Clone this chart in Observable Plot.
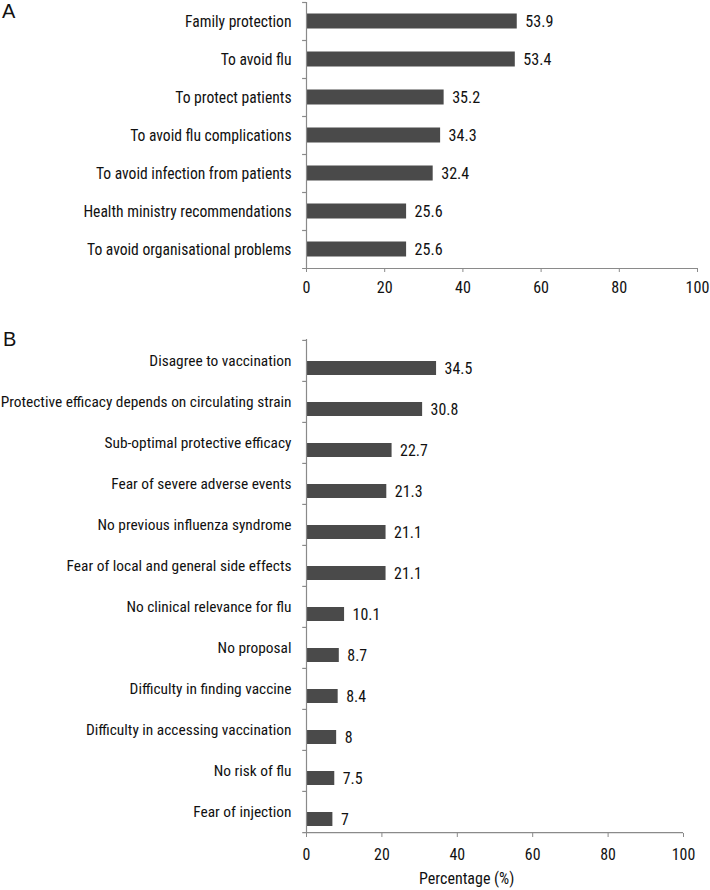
<!DOCTYPE html>
<html>
<head>
<meta charset="utf-8">
<script src="https://cdn.jsdelivr.net/npm/d3@7"></script>
<script src="https://cdn.jsdelivr.net/npm/@observablehq/plot@0.6"></script>
<style>
  html, body { margin: 0; padding: 0; background: #fff; }
  #wrap { position: relative; width: 710px; height: 890px; overflow: hidden; font-family: 'Roboto Condensed', 'Liberation Sans', sans-serif; color: #111; }
  .panel { position: absolute; left: 0; }
  .letter { position: absolute; z-index: 2; font-family: 'Liberation Sans', Arial, sans-serif; font-size: 20px; line-height: 20px; color: #111; }
  #xlabel { position: absolute; z-index: 2; left: 419px; top: 870px; font-size: 16px; line-height: 18px; }
</style>
</head>
<body>
<div id="wrap">
  <div id="panelA" class="panel" style="top:0px;"></div>
  <div id="panelB" class="panel" style="top:320px;"></div>
  <div class="letter" style="left:2px; top:1px;">A</div>
  <div class="letter" style="left:3px; top:329px;">B</div>
  <div id="xlabel">Percentage (%)</div>
</div>
<script>
const catsA = ["Family protection", "To avoid flu", "To protect patients", "To avoid flu complications", "To avoid infection from patients", "Health ministry recommendations", "To avoid organisational problems"];
const valsA = [53.9, 53.4, 35.2, 34.3, 32.4, 25.6, 25.6];

const catsB = ["Disagree to vaccination", "Protective efficacy depends on circulating strain", "Sub-optimal protective efficacy", "Fear of severe adverse events", "No previous influenza syndrome", "Fear of local and general side effects", "No clinical relevance for flu", "No proposal", "Difficulty in finding vaccine", "Difficulty in accessing vaccination", "No risk of flu", "Fear of injection"];
const valsB = [34.5, 30.8, 22.7, 21.3, 21.1, 21.1, 10.1, 8.7, 8.4, 8, 7.5, 7];

const xTicks = [0, 20, 40, 60, 80, 100];

const barColor = "#4a4a4a";
const axisColor = "#8a8a8a";
const font = "'Roboto Condensed', 'Liberation Sans', sans-serif";

function panel(cats, vals, o) {
  const data = cats.map((c, i) => ({cat: c, value: vals[i]}));
  const n = cats.length;
  const bw = (o.height - o.marginTop - o.marginBottom) / n;
  return Plot.plot({
    width: 710,
    height: o.height,
    marginLeft: 306,
    marginRight: o.marginRight,
    marginTop: o.marginTop,
    marginBottom: o.marginBottom,
    style: {fontFamily: font, fontSize: o.fontSize + "px", color: "#111", background: "#fff"},
    x: {domain: [0, 100], label: null},
    y: {domain: cats, padding: 0, label: null},
    marks: [
      Plot.barX(data, {x: "value", y: "cat", fill: barColor, insetTop: o.insetTop, insetBottom: o.insetBottom}),
      Plot.text(data, {x: "value", y: "cat", text: d => String(d.value), dx: 8, dy: o.valueDy, textAnchor: "start", fill: "#111", fontSize: o.fontSize + 0.5}),
      Plot.ruleX([0], {stroke: axisColor, strokeWidth: 1.2}),
      Plot.ruleY(cats, {y: d => d, x1: () => -1, x2: () => 0, dy: -bw / 2, stroke: axisColor, strokeWidth: 1.2}),
      Plot.ruleY([cats[n - 1]], {y: d => d, x1: () => -1, x2: () => 100, dy: bw / 2, stroke: axisColor, strokeWidth: 1.2}),
      Plot.axisY({tickSize: 0, tickPadding: 15, fill: "#111", label: null}),
      Plot.axisX({ticks: xTicks, tickSize: 4, tickPadding: o.xPad, stroke: axisColor, fill: "#111", label: null, fontSize: o.fontSize + 0.5})
    ]
  });
}

document.getElementById("panelA").appendChild(panel(catsA, valsA, {
  height: 300, marginTop: 2, marginBottom: 32, marginRight: 13,
  insetTop: 11.5, insetBottom: 11.5, valueDy: 0.5, fontSize: 15.6, xPad: 9
}));

document.getElementById("panelB").appendChild(panel(catsB, valsB, {
  height: 545, marginTop: 19, marginBottom: 32, marginRight: 27,
  insetTop: 21, insetBottom: 6, valueDy: 7.5, fontSize: 15.4, xPad: 11
}));
</script>
</body>
</html>
